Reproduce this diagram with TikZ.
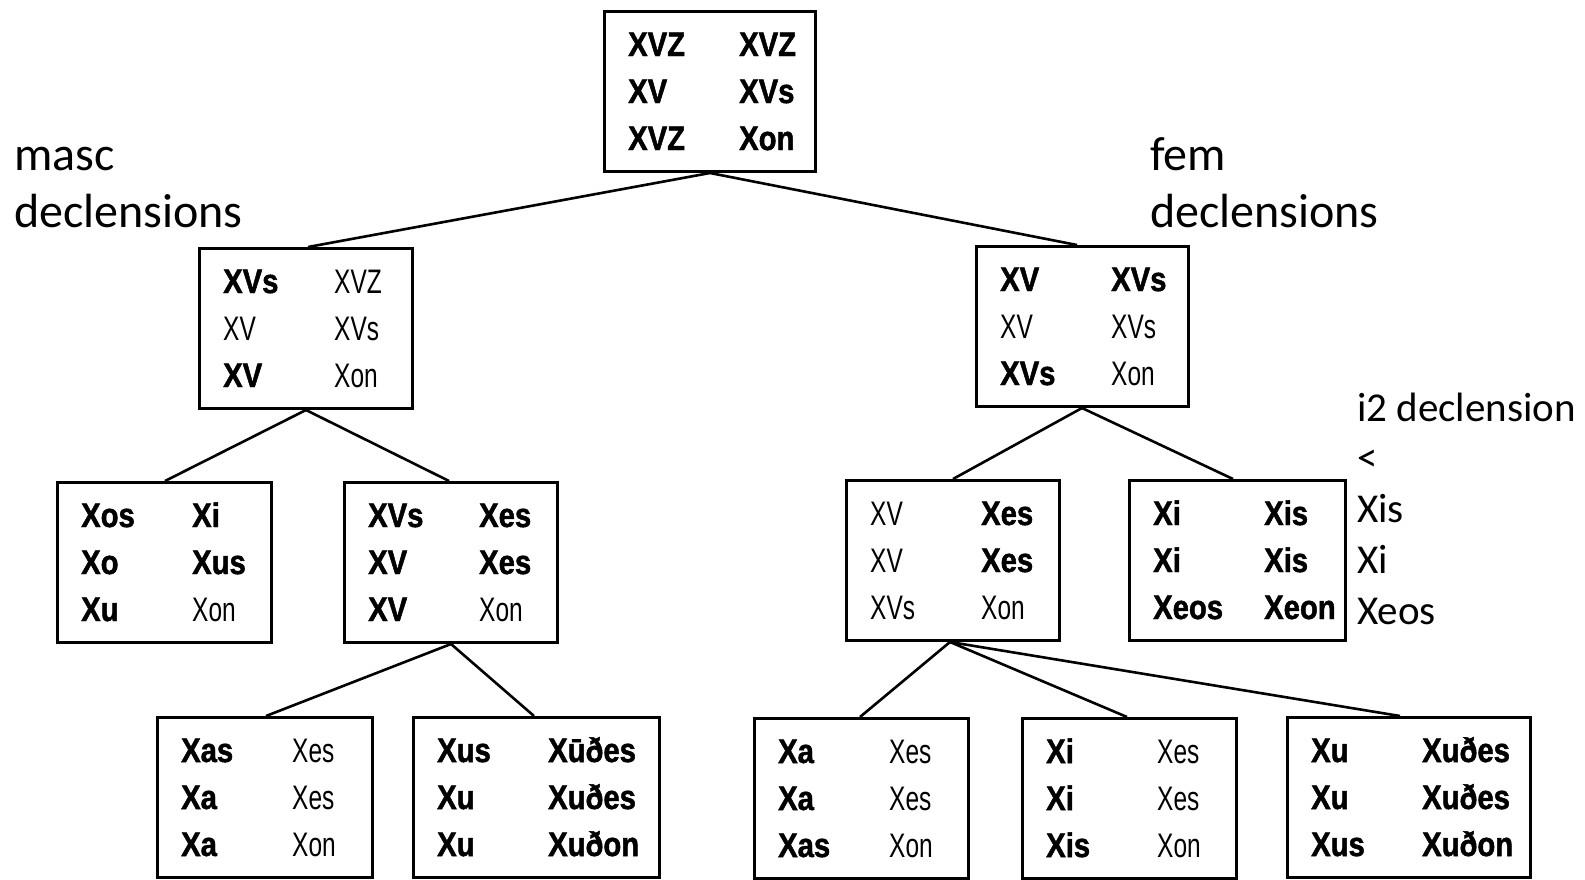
\documentclass[tikz,border=0pt]{standalone}
\usepackage{fontspec}
\setmainfont{Carlito}
% condensed faces for the paradigm tables
\newfontfamily\boxboldfont{Liberation Sans Bold}[FakeStretch=0.86,FakeBold=1.4]
\newfontfamily\boxlightfont{Liberation Sans}[FakeStretch=0.72]
\newcommand\bx[1]{{\boxboldfont #1}}
\newcommand\lt[1]{{\boxlightfont #1}}

\tikzset{
  tbox/.style={draw, line width=3pt, minimum height=160pt, inner sep=0pt, anchor=north west},
  ttext/.style={anchor=base west, inner sep=0pt, font=\fontsize{34}{47}\selectfont},
  link/.style={line width=2.6pt},
  note/.style={anchor=base west, inner sep=0pt, font=\fontsize{48}{57}\selectfont},
  smallnote/.style={anchor=base west, inner sep=0pt, font=\fontsize{41}{49}\selectfont}
}

% a framed 3x2 paradigm: name, x, y (top left), width, rows
\newcommand\paradigm[5]{%
  \node[tbox, minimum width=#4pt] (#1) at (#2,#3) {};
  \node[ttext] (#1-t) at ([shift={(25pt,-46pt)}]#1.north west)
    {\begin{tabular}[t]{@{}p{111pt}@{}l@{}}#5\end{tabular}};}

\begin{document}
\begin{tikzpicture}[x=1pt, y=-1pt]
\useasboundingbox (0,0) rectangle (1585,879);
\fill[white] (0,0) rectangle (1585,879);

% root
\paradigm{top}{603}{10}{211}{\bx{XVZ} & \bx{XVZ}\\ \bx{XV} & \bx{XVs}\\ \bx{XVZ} & \bx{Xon}}

% second level
\paradigm{masc}{198}{247}{213}{\bx{XVs} & \lt{XVZ}\\ \lt{XV} & \lt{XVs}\\ \bx{XV} & \lt{Xon}}
\paradigm{fem}{975}{245}{212}{\bx{XV} & \bx{XVs}\\ \lt{XV} & \lt{XVs}\\ \bx{XVs} & \lt{Xon}}

% third level
\paradigm{mo}{56}{481}{214}{\bx{Xos} & \bx{Xi}\\ \bx{Xo} & \bx{Xus}\\ \bx{Xu} & \lt{Xon}}
\paradigm{mc}{343}{481}{213}{\bx{XVs} & \bx{Xes}\\ \bx{XV} & \bx{Xes}\\ \bx{XV} & \lt{Xon}}
\paradigm{fc}{845}{479}{213}{\lt{XV} & \bx{Xes}\\ \lt{XV} & \bx{Xes}\\ \lt{XVs} & \lt{Xon}}
\paradigm{fi}{1128}{479}{216}{\bx{Xi} & \bx{Xis}\\ \bx{Xi} & \bx{Xis}\\ \bx{Xeos} & \bx{Xeon}}

% fourth level
\paradigm{ma}{156}{716}{215}{\bx{Xas} & \lt{Xes}\\ \bx{Xa} & \lt{Xes}\\ \bx{Xa} & \lt{Xon}}
\paradigm{mu}{412}{716}{246}{\bx{Xus} & \bx{Xūðes}\\ \bx{Xu} & \bx{Xuðes}\\ \bx{Xu} & \bx{Xuðon}}
\paradigm{fa}{753}{717}{214}{\bx{Xa} & \lt{Xes}\\ \bx{Xa} & \lt{Xes}\\ \bx{Xas} & \lt{Xon}}
\paradigm{fii}{1021}{717}{214}{\bx{Xi} & \lt{Xes}\\ \bx{Xi} & \lt{Xes}\\ \bx{Xis} & \lt{Xon}}
\paradigm{fu}{1286}{716}{243}{\bx{Xu} & \bx{Xuðes}\\ \bx{Xu} & \bx{Xuðes}\\ \bx{Xus} & \bx{Xuðon}}

% tree links
\draw[link] ([xshift=107pt]top.south west) -- ([xshift=110pt]masc.north west);
\draw[link] ([xshift=107pt]top.south west) -- ([xshift=102pt]fem.north west);
\draw[link] ([xshift=108pt]masc.south west) -- ([xshift=109pt]mo.north west);
\draw[link] ([xshift=108pt]masc.south west) -- ([xshift=106pt]mc.north west);
\draw[link] ([xshift=108pt]mc.south west) -- ([xshift=110pt]ma.north west);
\draw[link] ([xshift=108pt]mc.south west) -- ([xshift=122pt]mu.north west);
\draw[link] ([xshift=107pt]fem.south west) -- ([xshift=108pt]fc.north west);
\draw[link] ([xshift=107pt]fem.south west) -- ([xshift=105pt]fi.north west);
\draw[link] ([xshift=105pt]fc.south west) -- ([xshift=107pt]fa.north west);
\draw[link] ([xshift=105pt]fc.south west) -- ([xshift=106pt]fii.north west);
\draw[link] ([xshift=105pt]fc.south west) -- ([xshift=114pt]fu.north west);

% annotations
\node[note] (masc1) at (14,170) {masc};
\node[note] (masc2) at (14,227) {declensions};
\node[note] (fem1) at (1150,170) {fem};
\node[note] (fem2) at (1150,227) {declensions};
\node[smallnote] (i2a) at (1357,421) {i2 declension};
\node[smallnote] (i2b) at (1357,471.5) {<};
\node[smallnote] (i2c) at (1357,522) {Xis};
\node[smallnote] (i2d) at (1357,573) {Xi};
\node[smallnote] (i2e) at (1357,624) {Xeos};
\end{tikzpicture}
\end{document}
